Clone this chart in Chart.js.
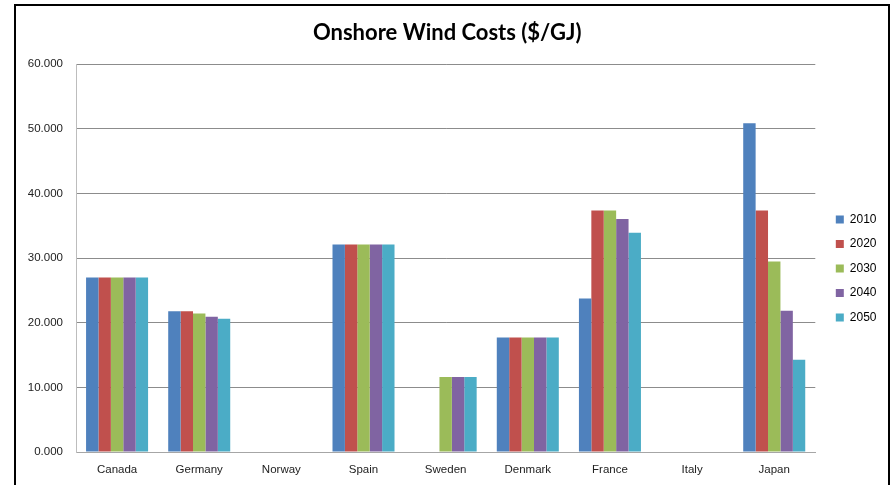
<!DOCTYPE html>
<html>
<head>
<meta charset="utf-8">
<script src="https://cdn.jsdelivr.net/npm/chart.js@4/dist/chart.umd.min.js"></script>
<style>
  html, body { margin: 0; padding: 0; background: #fff; overflow: hidden; }
  #frame {
    position: absolute; left: 14px; top: 4px;
    width: 872px; height: 500px;
    border: 2px solid #000; border-bottom: none;
  }
  canvas { display: block; }
</style>
</head>
<body>
<div id="frame"><canvas id="windChart" width="872" height="479"></canvas></div>
<script>
const countries = ['Canada', 'Germany', 'Norway', 'Spain', 'Sweden', 'Denmark', 'France', 'Italy', 'Japan'];
const years = ['2010', '2020', '2030', '2040', '2050'];
const colors = ['#4F81BD', '#C0504D', '#9BBB59', '#8064A2', '#4BACC6'];

// $/GJ per country, null where no value
const cost2010 = [27.0, 21.75, null, 32.1, null, 17.7, 23.75, null, 50.85];
const cost2020 = [27.0, 21.75, null, 32.1, null, 17.7, 37.35, null, 37.35];
const cost2030 = [27.0, 21.4, null, 32.1, 11.6, 17.7, 37.35, null, 29.45];
const cost2040 = [27.0, 20.9, null, 32.1, 11.6, 17.7, 36.05, null, 21.85];
const cost2050 = [27.0, 20.6, null, 32.1, 11.6, 17.7, 33.9, null, 14.25];
const series = [cost2010, cost2020, cost2030, cost2040, cost2050];

const yTicks = [0, 10, 20, 30, 40, 50, 60];

// move the legend block down / right to sit like the original
const legendShift = {
  id: 'legendShift',
  afterLayout(chart) {
    const lg = chart.legend;
    lg.left += 8; lg.right += 8;
    lg.top += 27; lg.bottom += 27;
  }
};

const ctx = document.getElementById('windChart').getContext('2d');
new Chart(ctx, {
  type: 'bar',
  data: {
    labels: countries,
    datasets: years.map((y, i) => ({
      label: y,
      data: series[i],
      backgroundColor: colors[i],
      borderWidth: 0,
      barPercentage: 1,
      categoryPercentage: 0.755
    }))
  },
  options: {
    responsive: false,
    animation: false,
    devicePixelRatio: 1,
    layout: { padding: { left: 0, right: 9.5, top: 0, bottom: 8 } },
    scales: {
      x: {
        afterFit: scale => { scale.height = 25; },
        grid: { display: false, drawTicks: false },
        border: { display: true, color: '#a6a6a6', width: 1 },
        ticks: {
          padding: 11,
          color: '#222',
          font: { family: 'Liberation Sans', size: 11.5 },
          maxRotation: 0
        }
      },
      y: {
        min: 0,
        max: 60,
        afterBuildTicks: scale => { scale.ticks = yTicks.map(v => ({ value: v })); },
        afterFit: scale => { scale.width = 60; },
        grid: { color: '#8c8c8c', drawTicks: false },
        border: { display: true, color: '#bdbdbd', width: 1 },
        ticks: {
          padding: 13,
          color: '#222',
          font: { family: 'Liberation Sans', size: 11.5 },
          callback: v => v.toFixed(3)
        }
      }
    },
    plugins: {
      title: {
        display: true,
        text: 'Onshore Wind Costs ($/GJ)',
        color: '#000',
        font: { family: 'Lato', size: 22, weight: 'bold' },
        padding: { top: 14, bottom: 17.6 }
      },
      legend: {
        position: 'right',
        labels: {
          boxWidth: 8,
          boxHeight: 8,
          padding: 12.5,
          color: '#000',
          font: { family: 'Liberation Sans', size: 12 }
        }
      },
      tooltip: { enabled: false }
    }
  },
  plugins: [legendShift]
});
</script>
</body>
</html>
